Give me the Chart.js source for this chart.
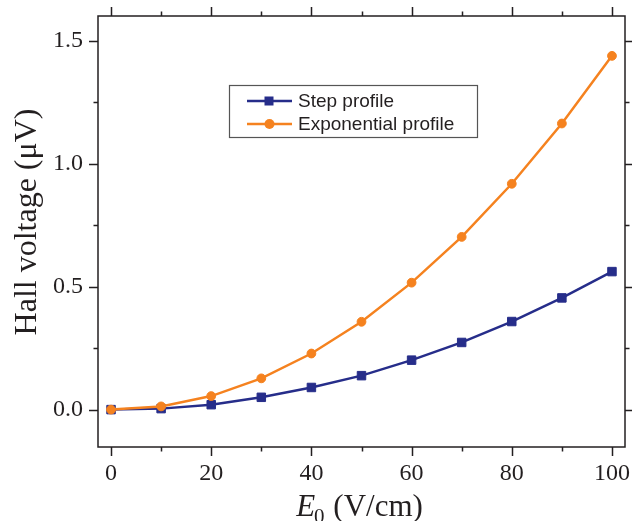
<!DOCTYPE html>
<html>
<head>
<meta charset="utf-8">
<script src="https://cdn.jsdelivr.net/npm/chart.js@4.4.1/dist/chart.umd.min.js"></script>
<style>
	html, body { margin: 0; padding: 0; background: #fff; }
</style>
</head>
<body>
<canvas id="myChart" width="632" height="521"></canvas>
<script>
// data
const fieldValues = [0, 10, 20, 30, 40, 50, 60, 70, 80, 90, 100];
const stepValues = [0, 0.004, 0.02, 0.05, 0.09, 0.138, 0.201, 0.273, 0.358, 0.454, 0.561];
const expValues = [0, 0.013, 0.055, 0.127, 0.228, 0.357, 0.516, 0.702, 0.918, 1.163, 1.438];
const seriesNames = ['Step profile', 'Exponential profile'];

const xTicks = [0, 20, 40, 60, 80, 100];
const xMinorTicks = [10, 30, 50, 70, 90];
const yTicks = [0, 0.5, 1.0, 1.5];
const yMinorTicks = [0.25, 0.75, 1.25];

const ink = '#231f20';
const blue = '#262d8a';
const orange = '#f5821f';
const serif = '"Liberation Serif", "Times New Roman", serif';

function toPoints(ys) {
	return fieldValues.map((x, i) => ({ x: x, y: ys[i] }));
}

// keep the plot box where the figure has it
function noPad(s) {
	s.paddingTop = 0;
	s.paddingBottom = 0;
	s.paddingLeft = 0;
	s.paddingRight = 0;
}

// frame box + ticks on all four sides
const frameTicks = {
	id: 'frameTicks',
	afterDraw(chart) {
		const { ctx, chartArea: a, scales: { x, y } } = chart;
		ctx.save();
		ctx.strokeStyle = ink;
		ctx.lineWidth = 1.5;
		ctx.strokeRect(a.left, a.top, a.right - a.left, a.bottom - a.top);
		ctx.beginPath();
		const xt = (vals, len) => vals.forEach(v => {
			const px = Math.round(x.getPixelForValue(v)) + 0.5;
			ctx.moveTo(px, a.bottom); ctx.lineTo(px, a.bottom + len);
			ctx.moveTo(px, a.top); ctx.lineTo(px, a.top - len);
		});
		const yt = (vals, len) => vals.forEach(v => {
			const py = Math.round(y.getPixelForValue(v)) + 0.5;
			ctx.moveTo(a.left, py); ctx.lineTo(a.left - len, py);
			ctx.moveTo(a.right, py); ctx.lineTo(a.right + len, py);
		});
		xt(xTicks, 9); xt(xMinorTicks, 4.5);
		yt(yTicks, 9); yt(yMinorTicks, 4.5);
		ctx.stroke();
		ctx.restore();
	}
};

// axis titles (italic E with subscript 0)
const axisTitles = {
	id: 'axisTitles',
	afterDraw(chart) {
		const { ctx, chartArea: a } = chart;
		ctx.save();
		ctx.fillStyle = ink;
		ctx.textBaseline = 'alphabetic';

		// x title
		const big = '31px ' + serif;
		const small = '21px ' + serif;
		ctx.font = 'italic ' + big;
		const wE = ctx.measureText('E').width;
		ctx.font = small;
		const w0 = ctx.measureText('0').width;
		ctx.font = big;
		const wRest = ctx.measureText(' (V/cm)').width;
		let x0 = (a.left + a.right) / 2 - 2 - (wE + w0 + wRest) / 2;
		const base = 516;
		ctx.font = 'italic ' + big;
		ctx.fillText('E', x0, base);
		ctx.font = small;
		ctx.fillText('0', x0 + wE - 1, base + 7);
		ctx.font = big;
		ctx.fillText(' (V/cm)', x0 + wE + w0, base);

		// y title
		ctx.translate(36, 222);
		ctx.rotate(-Math.PI / 2);
		ctx.font = '32px ' + serif;
		ctx.textAlign = 'center';
		ctx.fillText('Hall voltage (\u03bcV)', 0, 0);
		ctx.restore();
	}
};

// boxed legend inside the plot
const boxLegend = {
	id: 'boxLegend',
	afterDraw(chart) {
		const { ctx } = chart;
		ctx.save();
		ctx.strokeStyle = '#555';
		ctx.lineWidth = 1.2;
		ctx.strokeRect(229.5, 85.5, 248, 52);
		const rows = [101, 124];
		chart.data.datasets.forEach((ds, i) => {
			const yy = rows[ds.legendRow];
			ctx.strokeStyle = ds.borderColor;
			ctx.lineWidth = 2.5;
			ctx.beginPath();
			ctx.moveTo(247, yy); ctx.lineTo(292, yy);
			ctx.stroke();
			ctx.fillStyle = ds.backgroundColor;
			if (ds.pointStyle === 'rect') {
				ctx.fillRect(264.5, yy - 4.5, 9, 9);
			} else {
				ctx.beginPath();
				ctx.arc(269.5, yy, 5, 0, Math.PI * 2);
				ctx.fill();
			}
			ctx.fillStyle = ink;
			ctx.font = '19px "Liberation Sans", Arial, sans-serif';
			ctx.textBaseline = 'middle';
			ctx.fillText(ds.label, 298, yy + 1);
		});
		ctx.restore();
	}
};

const data = {
	datasets: [{
		label: seriesNames[1],
		legendRow: 1,
		data: toPoints(expValues),
		borderColor: orange,
		backgroundColor: orange,
		pointBorderColor: orange,
		pointStyle: 'circle',
		pointRadius: 4.4,
		pointBorderWidth: 1,
		borderWidth: 2.5,
		order: 0
	}, {
		label: seriesNames[0],
		legendRow: 0,
		data: toPoints(stepValues),
		borderColor: blue,
		backgroundColor: blue,
		pointBorderColor: blue,
		pointStyle: 'rect',
		pointRadius: 6,
		pointBorderWidth: 1,
		borderWidth: 2.5,
		order: 1
	}]
};

const config = {
	type: 'line',
	data,
	options: {
		responsive: false,
		animation: false,
		layout: { padding: { left: 0, top: 16, right: 5, bottom: 0 } },
		plugins: {
			legend: { display: false },
			tooltip: { enabled: false }
		},
		scales: {
			x: {
				type: 'linear',
				min: -2.6,
				max: 102.6,
				grid: { display: false, drawTicks: false },
				border: { display: false },
				afterBuildTicks: s => { s.ticks = xTicks.map(v => ({ value: v })); },
				afterFit: s => { s.height = 74; noPad(s); },
				ticks: {
					color: ink,
					padding: 12,
					maxRotation: 0,
					font: { family: serif, size: 24 },
					callback: v => String(v)
				}
			},
			y: {
				min: -0.152,
				max: 1.6,
				grid: { display: false, drawTicks: false },
				border: { display: false },
				afterBuildTicks: s => { s.ticks = yTicks.map(v => ({ value: v })); },
				afterFit: s => { s.width = 98; noPad(s); },
				ticks: {
					color: ink,
					padding: 15,
					font: { family: serif, size: 24 },
					callback: v => Number(v).toFixed(1)
				}
			}
		}
	},
	plugins: [frameTicks, axisTitles, boxLegend]
};

const myChart = new Chart(document.getElementById('myChart'), config);
</script>
</body>
</html>
